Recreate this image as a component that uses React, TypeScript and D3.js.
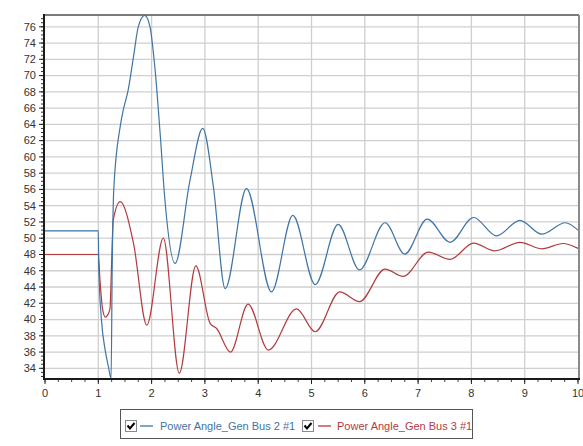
import React from "react";
import * as d3 from "d3";

const timeBlue = [0, 1.0, 1.01, 1.06, 1.13, 1.19, 1.24, 1.26, 1.29, 1.41, 1.47, 1.56, 1.66, 1.75, 1.87, 1.97, 2.06, 2.16, 2.25, 2.44, 2.72, 2.96, 3.16, 3.38, 3.78, 4.25, 4.65, 5.07, 5.5, 5.9, 6.38, 6.75, 7.17, 7.6, 8.04, 8.47, 8.91, 9.32, 9.76, 10];
const angleBlue = [50.9, 50.9, 46, 39.9, 36.2, 34.2, 32.75, 46, 56, 63.7, 65.8, 68.2, 72.3, 76, 77.4, 76, 71.1, 62.9, 54.7, 46.9, 57.1, 63.5, 56.3, 43.8, 56.1, 43.4, 52.8, 44.3, 51.7, 46.1, 51.9, 48.05, 52.35, 49.5, 52.55, 50.3, 52.2, 50.5, 51.9, 51.0];

const timeRed = [0, 1.0, 1.03, 1.08, 1.13, 1.2, 1.22, 1.25, 1.28, 1.41, 1.66, 1.91, 2.22, 2.52, 2.83, 3.1, 3.22, 3.48, 3.81, 4.19, 4.72, 5.07, 5.53, 5.9, 6.38, 6.72, 7.19, 7.6, 8.04, 8.44, 8.91, 9.32, 9.72, 10];
const angleRed = [48, 48, 45, 41.3, 40.3, 40.9, 41.4, 47, 52.2, 54.5, 49.4, 39.3, 50.0, 33.4, 46.6, 39.5, 38.9, 36.0, 41.9, 36.25, 41.3, 38.5, 43.4, 42.2, 46.2, 45.3, 48.3, 47.4, 49.4, 48.45, 49.5, 48.7, 49.35, 48.75];

const xTicks = [0, 1, 2, 3, 4, 5, 6, 7, 8, 9, 10];
const yTicks = [34, 36, 38, 40, 42, 44, 46, 48, 50, 52, 54, 56, 58, 60, 62, 64, 66, 68, 70, 72, 74, 76];
const seriesNames = ["Power Angle_Gen Bus 2 #1", "Power Angle_Gen Bus 3 #1"];

const BLUE = "#3f74a6";
const RED = "#b23b3f";

export default function App() {
  const left = 44, right = 579, top = 15, bottom = 379;
  const x = d3.scaleLinear().domain([0, 10]).range([45, 578]);
  const y = d3.scaleLinear().domain([32.75, 77.45]).range([378.5, 15]);

  const line = d3
    .line<[number, number]>()
    .x((d) => x(d[0]))
    .y((d) => y(d[1]))
    .curve(d3.curveMonotoneX);

  const blueData: [number, number][] = timeBlue.map((t, i) => [t, angleBlue[i]]);
  const redData: [number, number][] = timeRed.map((t, i) => [t, angleRed[i]]);

  const yMinor = d3.range(33, 77.5, 0.5);
  const xMinor = d3.range(0, 10.001, 0.25);

  const font = "'Liberation Sans', Arial, sans-serif";

  const checkbox = (cx: number, cy: number) => (
    <g>
      <rect x={cx + 0.5} y={cy + 0.5} width={11} height={11} fill="#fff" stroke="#8a8a8a" />
      <path d={`M${cx + 2.5},${cy + 5.5} L${cx + 5},${cy + 8.5} L${cx + 9.5},${cy + 3}`} fill="none" stroke="#000" strokeWidth={2} />
    </g>
  );

  return (
    <svg width={583} height={446} style={{ position: "absolute", left: 0, top: 0, background: "#fff" }} fontFamily={font}>
      <defs>
        <clipPath id="plot">
          <rect x={left} y={top} width={right - left} height={bottom - top} />
        </clipPath>
      </defs>
      {/* grid */}
      {yTicks.map((v) => (
        <line key={"gy" + v} x1={left} x2={right} y1={y(v)} y2={y(v)} stroke="#cfcfcf" strokeWidth={1.3} />
      ))}
      {xTicks.slice(1, 10).map((v) => (
        <line key={"gx" + v} x1={x(v)} x2={x(v)} y1={top} y2={bottom} stroke="#cfcfcf" strokeWidth={1.3} />
      ))}
      {/* frame top/right */}
      <line x1={left} x2={right} y1={top} y2={top} stroke="#7a7a7a" strokeWidth={2} />
      <line x1={right} x2={right} y1={top} y2={bottom} stroke="#8a8a8a" strokeWidth={2} />
      {/* series */}
      <g clipPath="url(#plot)">
        <path d={line(redData) || ""} fill="none" stroke={RED} strokeWidth={1.2} />
        <path d={line(blueData) || ""} fill="none" stroke={BLUE} strokeWidth={1.2} />
      </g>
      {/* y axis */}
      {yMinor.map((v) => (
        <line key={"ym" + v} x1={left - 3} x2={left} y1={y(v)} y2={y(v)} stroke="#333" strokeWidth={1} />
      ))}
      {yTicks.map((v) => (
        <g key={"yt" + v}>
          <line x1={left - 5} x2={left} y1={y(v)} y2={y(v)} stroke="#222" strokeWidth={1} />
          <text x={36} y={y(v)} dy="0.35em" textAnchor="end" fontSize={11} fill="#333">
            {v}
          </text>
        </g>
      ))}
      <line x1={left} x2={left} y1={top - 1} y2={bottom + 1} stroke="#1a1a1a" strokeWidth={2} />
      {/* x axis */}
      {xMinor.map((v) => (
        <line key={"xm" + v} x1={x(v)} x2={x(v)} y1={bottom} y2={bottom + 3} stroke="#444" strokeWidth={1} />
      ))}
      {xTicks.map((v) => (
        <g key={"xt" + v}>
          <line x1={x(v)} x2={x(v)} y1={bottom} y2={bottom + 5} stroke="#222" strokeWidth={1} />
          <text x={x(v)} y={397} textAnchor="middle" fontSize={11} fill="#333">
            {v}
          </text>
        </g>
      ))}
      <line x1={left - 1} x2={right + 1} y1={bottom} y2={bottom} stroke="#1a1a1a" strokeWidth={2} />
      {/* legend */}
      <rect x={120.5} y={409.5} width={352} height={29} fill="#fff" stroke="#555" />
      {checkbox(125, 420)}
      <line x1={140} x2={153} y1={426} y2={426} stroke={BLUE} strokeWidth={1.3} />
      <text x={160} y={430} fontSize={11} fill={BLUE}>{seriesNames[0]}</text>
      {checkbox(302, 420)}
      <line x1={318} x2={331} y1={426} y2={426} stroke={RED} strokeWidth={1.3} />
      <text x={337} y={430} fontSize={11} fill={RED}>{seriesNames[1]}</text>
    </svg>
  );
}
